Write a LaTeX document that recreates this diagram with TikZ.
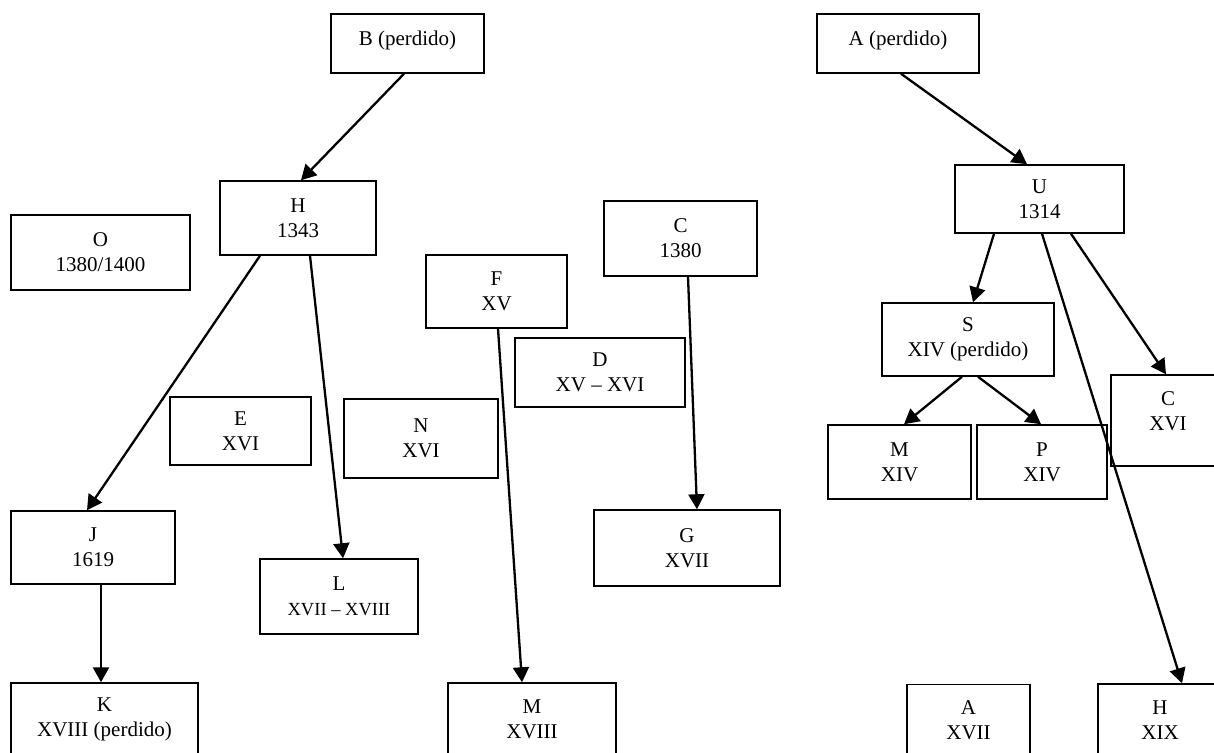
\documentclass[tikz,border=0pt]{standalone}
\usepackage{fontspec}
\setmainfont{Liberation Serif}
\usetikzlibrary{arrows.meta}

\begin{document}
\begin{tikzpicture}[
    x=1pt, y=-1pt,
    codex/.style={rectangle, draw=black, line width=1.5pt, inner sep=0pt, align=center, font=\fontsize{21}{25}\selectfont},
    descent/.style={line width=2.3pt, -{Triangle[length=15pt,width=16pt]}}
]
    \useasboundingbox (0,0) rectangle (1214,752);
    \clip (0,0) rectangle (1214,752);

    % Family of B
    \node[codex, minimum width=153, minimum height=59, text depth=11.5pt] (B) at (407.5,43.5) {B (perdido)};
    \node[codex, minimum width=156, minimum height=74] (H) at (298,218) {H\\1343};
    \node[codex, minimum width=179, minimum height=75] (O) at (100.5,252.5) {O\\1380/1400};
    \node[codex, minimum width=141, minimum height=68] (E) at (240.5,431) {E\\XVI};
    \node[codex, minimum width=164, minimum height=73] (J) at (93,547.5) {J\\1619};
    \node[codex, minimum width=158, minimum height=75] (L) at (339,596.5) {L\\\fontsize{18.5}{23}\selectfont XVII -- XVIII};
    \node[codex, minimum width=187, minimum height=72] (K) at (104.5,719) {K\\XVIII (perdido)};

    % Middle group
    \node[codex, minimum width=141, minimum height=73] (F) at (496.5,291.5) {F\\XV};
    \node[codex, minimum width=153, minimum height=75] (C) at (680.5,238.5) {C\\1380};
    \node[codex, minimum width=170, minimum height=69] (D) at (600,372.5) {D\\XV -- XVI};
    \node[codex, minimum width=154, minimum height=79] (N) at (421,438.5) {N\\XVI};
    \node[codex, minimum width=186, minimum height=76] (G) at (687,548) {G\\XVII};
    \node[codex, minimum width=168, minimum height=72] (M18) at (532,719) {M\\XVIII};

    % Family of A
    \node[codex, minimum width=162, minimum height=59, text depth=11.5pt] (Ap) at (898,43.5) {A (perdido)};
    \node[codex, minimum width=169, minimum height=68] (U) at (1039.5,199) {U\\1314};
    \node[codex, minimum width=172, minimum height=73] (S) at (968,339.5) {S\\XIV (perdido)};
    \node[codex, minimum width=143, minimum height=74] (M14) at (899.5,462) {M\\XIV};
    \node[codex, minimum width=130, minimum height=74] (P) at (1042,462) {P\\XIV};
    \node[codex, minimum width=114, minimum height=91, text depth=19pt] (C16) at (1168,420.5) {C\\XVI};
    \node[codex, minimum width=123, minimum height=72] (A17) at (968.5,720.5) {A\\XVII};
    \node[codex, minimum width=124, minimum height=73] (H19) at (1160,720.5) {H\\XIX};

    % Copies
    \draw[descent] ([xshift=-3.5pt]B.south) -- ([xshift=3pt]H.north);
    \draw[descent] ([xshift=-38pt]H.south) -- ([xshift=-6pt]J.north);
    \draw[descent] ([xshift=12pt]H.south) -- ([xshift=4pt]L.north);
    \draw[descent] ([xshift=8pt]J.south) -- ([xshift=-3.5pt]K.north);
    \draw[descent] ([xshift=1.5pt]F.south) -- ([xshift=-10pt]M18.north);
    \draw[descent] ([xshift=7.5pt]C.south) -- ([xshift=10pt]G.north);
    \draw[descent] ([xshift=3pt]Ap.south) -- ([xshift=-12.5pt]U.north);
    \draw[descent] ([xshift=-45.5pt]U.south) -- ([xshift=5pt]S.north);
    \draw[descent] ([xshift=31.5pt]U.south) -- ([xshift=-2pt]C16.north);
    \draw[descent] ([xshift=2.5pt]U.south) -- ([xshift=22pt]H19.north);
    \draw[descent] ([xshift=-6pt]S.south) -- ([xshift=4.5pt]M14.north);
    \draw[descent] ([xshift=10pt]S.south) -- ([xshift=-1pt]P.north);

\end{tikzpicture}
\end{document}
